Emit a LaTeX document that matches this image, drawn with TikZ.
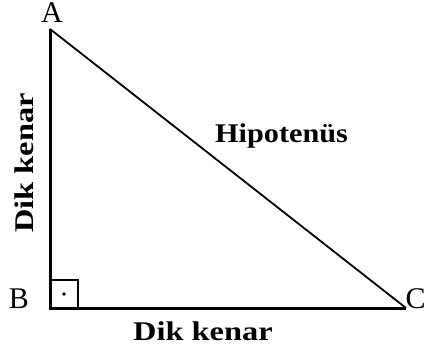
\documentclass[tikz,border=0pt]{standalone}
\usepackage{fontspec}
\usepackage{graphicx}
\setmainfont{Liberation Serif}
\begin{document}
\begin{tikzpicture}[x=1pt, y=-1pt,
    leg/.style={line width=3pt},
    hyp/.style={line width=1.8pt},
    vlabel/.style={font=\fontsize{30}{30}\selectfont, inner sep=0pt},
    slabel/.style={font=\bfseries\fontsize{27}{27}\selectfont, inner sep=0pt}]
    \useasboundingbox (0,0) rectangle (425,352);

    % Vertices
    \coordinate (A) at (50,29);
    \coordinate (B) at (50,308);
    \coordinate (C) at (406,308);

    % Sides
    \draw[hyp] (A) -- (C);
    \draw[leg] (A) -- (B) -- (C);

    % Right angle mark
    \draw[line width=1.5pt] (B) ++(0,-28) -| ++(28,28);
    \fill (B) ++(14,-14) circle (1.8pt);

    % Vertex labels
    \node[vlabel, anchor=base] (lA) at (52,23) {A};
    \node[vlabel, anchor=base] (lB) at (19,308) {B};
    \node[vlabel, anchor=base west] (lC) at (405.5,308) {C};

    % Side labels
    \node[slabel, anchor=base west] (lhyp) at (215,143) {\scalebox{1.12}[1]{Hipoten\"us}};
    \node[slabel, anchor=base west] (lbc) at (133,340) {\scalebox{1.2}[1]{Dik kenar}};
    \node[slabel, anchor=base west, rotate=90] (lab) at (33,233) {\scalebox{1.2}[1]{Dik kenar}};
\end{tikzpicture}
\end{document}
